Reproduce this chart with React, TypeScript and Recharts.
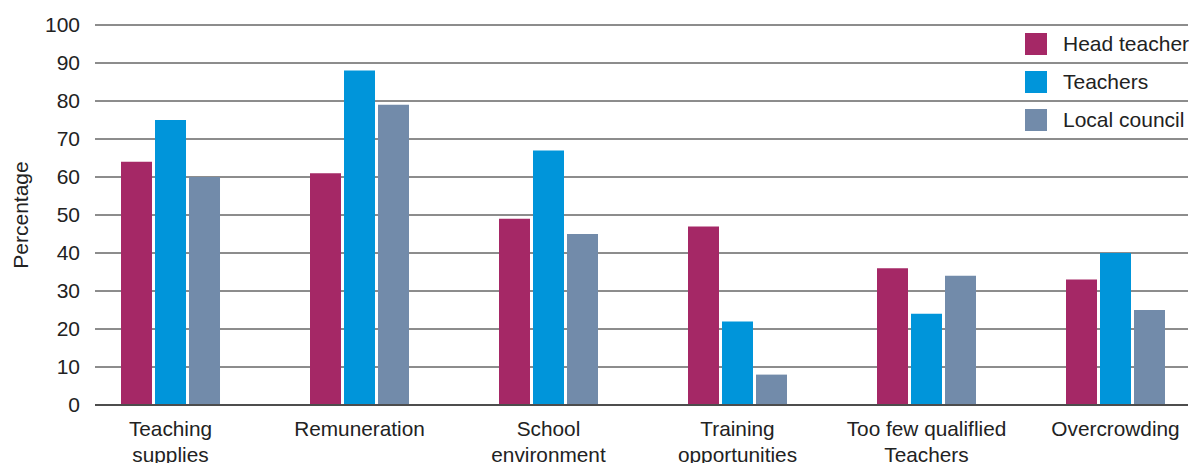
import React from 'react';
import { BarChart, Bar, XAxis, YAxis, CartesianGrid, Legend } from 'recharts';

const categories = ['Teaching\nsupplies', 'Remuneration', 'School\nenvironment', 'Training\nopportunities', 'Too few qualiflied\nTeachers', 'Overcrowding'];
const headTeacher = [64, 61, 49, 47, 36, 33];
const teachers = [75, 88, 67, 22, 24, 40];
const localCouncil = [60, 79, 45, 8, 34, 25];
const yTicks = [0, 10, 20, 30, 40, 50, 60, 70, 80, 90, 100];

const SERIES = [
  { key: 'head', name: 'Head teacher', color: '#A52866' },
  { key: 'teachers', name: 'Teachers', color: '#0095DA' },
  { key: 'council', name: 'Local council', color: '#728BAA' },
];

const FONT = '"Liberation Sans", Arial, sans-serif';
const TEXT = '#222';

const data = categories.map((c, i) => ({
  idx: i,
  name: c,
  head: headTeacher[i],
  teachers: teachers[i],
  council: localCouncil[i],
}));

const CategoryTick = (props: any) => {
  const { x, y, payload } = props;
  const lines = (categories[payload.value] || '').split('\n');
  return (
    <text x={x} y={y} textAnchor="middle" fill={TEXT} fontSize={20.8} fontFamily={FONT}>
      {lines.map((l, i) => (
        <tspan key={i} x={x} dy={i === 0 ? 29 : 26}>{l}</tspan>
      ))}
    </text>
  );
};

const renderLegend = () => (
  <div style={{ fontFamily: FONT, fontSize: 21, color: TEXT }}>
    {SERIES.map((s) => (
      <div key={s.key} style={{ display: 'flex', alignItems: 'center', height: 38 }}>
        <span style={{ width: 22, height: 22, background: s.color, display: 'inline-block', marginRight: 16 }} />
        <span>{s.name}</span>
      </div>
    ))}
  </div>
);

const renderYLabel = () => (
  <text x={20} y={215} transform="rotate(-90 20 215)" textAnchor="middle" dominantBaseline="central"
    fill={TEXT} fontSize={21} fontFamily={FONT}>Percentage</text>
);

export default function App() {
  return (
    <div style={{ position: 'absolute', left: 0, top: 0, background: '#fff' }}>
      <BarChart width={1192} height={463} data={data} margin={{ top: 25, right: 4, bottom: 0, left: 35 }}
        barSize={31} barGap={3}>
        <CartesianGrid horizontal vertical={false} stroke="#1a1a1a" strokeWidth={1} />
        <XAxis dataKey="idx" type="number" domain={[-0.3995, 5.3836]} ticks={[0, 1, 2, 3, 4, 5]}
          allowDataOverflow height={58} tickLine={false} tickSize={0} interval={0}
          axisLine={{ stroke: '#4d4d4d', strokeWidth: 2 }} tick={<CategoryTick />} />
        <YAxis domain={[0, 100]} ticks={yTicks} width={60} axisLine={false} tickLine={false}
          tickSize={0} tickMargin={15} interval={0}
          tick={{ fill: TEXT, fontSize: 21, fontFamily: FONT }}
          label={{ content: renderYLabel }} />
        <Legend content={renderLegend} layout="vertical" align="center" verticalAlign="middle"
          wrapperStyle={{ position: 'absolute', left: 1025, top: 25, width: 170 }} />
        {SERIES.map((s) => (
          <Bar key={s.key} dataKey={s.key} name={s.name} fill={s.color} isAnimationActive={false} />
        ))}
      </BarChart>
    </div>
  );
}
